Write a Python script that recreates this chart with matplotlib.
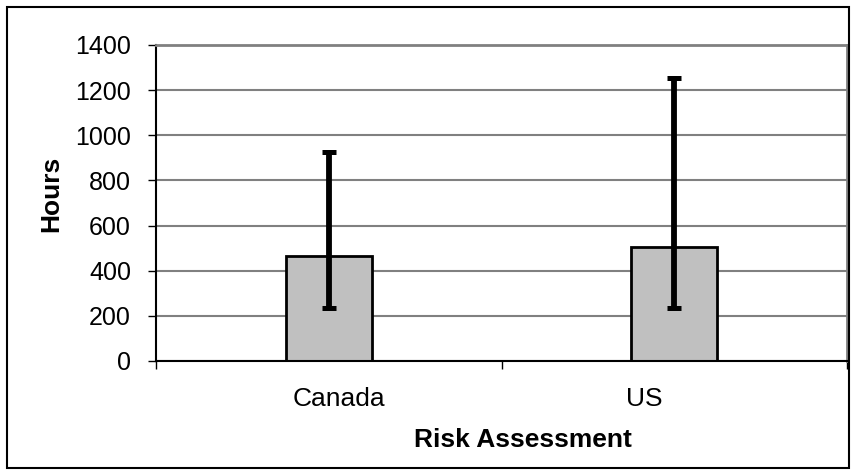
import numpy as np
import matplotlib
matplotlib.use("Agg")
import matplotlib.pyplot as plt
from matplotlib.patches import Rectangle
from matplotlib.transforms import ScaledTranslation

# -----------------------------
#  Data
# -----------------------------
countries = ["Canada", "US"]
hours_mean = [463, 507]
hours_low = [235, 235]
hours_high = [925, 1255]
y_ticks = [0, 200, 400, 600, 800, 1000, 1200, 1400]

plt.rcParams["font.family"] = ["Liberation Sans", "DejaVu Sans"]

x = np.arange(len(countries))
err = [np.array(hours_mean) - np.array(hours_low),
       np.array(hours_high) - np.array(hours_mean)]

# -----------------------------
#  Figure
# -----------------------------
fig = plt.figure(figsize=(8.55, 4.75), dpi=100)
ax = fig.add_axes([156 / 855, 1 - 361 / 475, (847 - 156) / 855, (361 - 45) / 475])

ax.bar(x, hours_mean, width=0.25, color="#C0C0C0", edgecolor="black",
       linewidth=2, zorder=2)
ax.errorbar(x, hours_mean, yerr=err, fmt="none", ecolor="black",
            elinewidth=4.2, capsize=5, capthick=3.6, zorder=3)

ax.set_xlim(-0.5, 1.5)
ax.set_ylim(0, 1400)
ax.set_yticks(y_ticks)
ax.yaxis.grid(True, color="#808080", linewidth=1.5, zorder=0)
ax.set_axisbelow(True)

ax.set_xticks(x)
ax.set_xticklabels(countries)
ax.set_xticks([-0.5, 0.5, 1.5], minor=True)
ax.tick_params(axis="x", which="major", length=0, pad=19, labelsize=19)
ax.tick_params(axis="x", which="minor", length=6, width=1, direction="out")
ax.tick_params(axis="y", length=6, width=1, direction="out", pad=12, labelsize=18)

# category labels sit a little off the bar centres in the original
for lab, dx in zip(ax.get_xticklabels(), [10, -30]):
    lab.set_transform(lab.get_transform() + ScaledTranslation(dx / 100, 0, fig.dpi_scale_trans))

for s in ["left", "bottom"]:
    ax.spines[s].set_color("black")
    ax.spines[s].set_linewidth(1.5)
for s in ["top", "right"]:
    ax.spines[s].set_color("#808080")
    ax.spines[s].set_linewidth(2)

ax.set_xlabel("Risk Assessment", fontsize=19, fontweight="bold")
ax.xaxis.set_label_coords((523 - 156) / 691, -(428 - 361) / 316)
ax.set_ylabel("Hours", fontsize=19, fontweight="bold")
ax.yaxis.set_label_coords(-(156 - 63) / 691, (361 - 194) / 316)

# outer chart frame
fig.patches.append(Rectangle((7 / 855, 7 / 475), 842 / 855, 461 / 475,
                             transform=fig.transFigure, fill=False,
                             edgecolor="black", linewidth=1.5))

plt.savefig("out.png", dpi=100)
